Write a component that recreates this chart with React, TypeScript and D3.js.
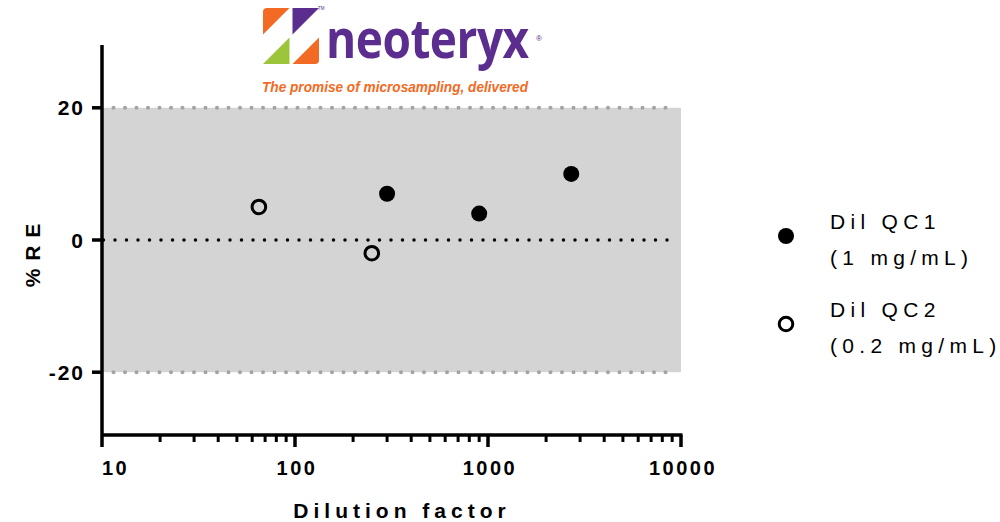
import React from "react";
import * as d3 from "d3";

// chart values
const qc1Dilution = [300, 900, 2700];
const qc1RE = [7, 4, 10];
const qc2Dilution = [65, 250];
const qc2RE = [5, -2];
const yTicks = [-20, 0, 20];
const xTickLabels = ["10", "100", "1000", "10000"];
const band = [-20, 20];
const legendLines = [
  ["Dil QC1", "(1 mg/mL)"],
  ["Dil QC2", "(0.2 mg/mL)"],
];

const width = 1000;
const height = 522;
const font = "Arial, 'Liberation Sans', sans-serif";

const ORANGE = "#f26a23";
const PURPLE = "#5b2d8e";
const GREEN = "#9cc53c";

function Logo() {
  // neoteryx mark: 2x2 grid of triangles leaving a white "Z"
  const x0 = 263;
  const y0 = 8;
  const c = 28;
  const g = 1.5;
  return (
    <g>
      <path d={`M${x0},${y0 + 4} Q${x0},${y0} ${x0 + 4},${y0} L${x0 + c - g},${y0} L${x0},${y0 + c - g} Z`} fill={ORANGE} />
      <path d={`M${x0 + c + g},${y0} L${x0 + 2 * c},${y0} L${x0 + c + g},${y0 + c - g} Z`} fill={PURPLE} />
      <path d={`M${x0 + c - g},${y0 + c + g} L${x0 + c - g},${y0 + 2 * c} L${x0},${y0 + 2 * c} Z`} fill={GREEN} />
      <path d={`M${x0 + 2 * c},${y0 + c + g} L${x0 + 2 * c},${y0 + 2 * c - 4} Q${x0 + 2 * c},${y0 + 2 * c} ${x0 + 2 * c - 4},${y0 + 2 * c} L${x0 + c + g},${y0 + 2 * c} Z`} fill={ORANGE} />
      <text x={x0 + 2 * c - 1} y={y0 + 2} fontSize={4.5} fill={PURPLE} fontFamily={font}>TM</text>
      <text
        transform="translate(326,58) scale(1,1.15)"
        fontSize={46}
        fontWeight="bold"
        fill={PURPLE}
        fontFamily="'Open Sans', 'DejaVu Sans', sans-serif"
        letterSpacing={-0.5}
      >
        neoteryx
      </text>
      <text x={536} y={41} fontSize={8} fill={PURPLE} fontFamily={font}>®</text>
      <text
        x={262}
        y={92}
        fontSize={14}
        fontWeight="bold"
        fontStyle="italic"
        fill={ORANGE}
        fontFamily={font}
        textLength={266}
        lengthAdjust="spacingAndGlyphs"
      >
        The promise of microsampling, delivered
      </text>
    </g>
  );
}

export default function App() {
  const x = d3.scaleLog().domain([10, 10000]).range([102, 681]);
  const y = d3.scaleLinear().domain([-29.5, 29.5]).range([435, 45]);
  const [x0, x1] = x.range();
  const [yb, yt] = y.range();

  const ticks = x.ticks();
  const isMajor = (t: number) => Math.abs(Math.log10(t) - Math.round(Math.log10(t))) < 1e-9;

  const qc1 = qc1Dilution.map((d, i) => ({ d, v: qc1RE[i] }));
  const qc2 = qc2Dilution.map((d, i) => ({ d, v: qc2RE[i] }));

  return (
    <div style={{ position: "fixed", left: 0, top: 0 }}>
      <svg width={width} height={height} style={{ display: "block", background: "#fff" }}>
        <Logo />

        {/* acceptance band */}
        <rect x={x0} y={y(band[1])} width={x1 - x0} height={y(band[0]) - y(band[1])} fill="#d4d4d4" />
        {band.map((b) => (
          <line
            key={b}
            x1={x0 + 11.5}
            x2={x1 - 5}
            y1={y(b)}
            y2={y(b)}
            stroke="#a3a3a3"
            strokeWidth={4}
            strokeLinecap="round"
            strokeDasharray="0 11.5"
          />
        ))}
        <line
          x1={x0 + 1.5}
          x2={x1 - 5}
          y1={y(0)}
          y2={y(0)}
          stroke="#000"
          strokeWidth={3.5}
          strokeLinecap="round"
          strokeDasharray="0 11.5"
        />

        {/* y axis */}
        <line x1={x0} x2={x0} y1={yt} y2={yb} stroke="#000" strokeWidth={3.5} />
        {yTicks.map((t) => (
          <g key={t}>
            <line x1={x0 - 10} x2={x0} y1={y(t)} y2={y(t)} stroke="#000" strokeWidth={3.5} />
            <text
              x={85}
              y={y(t) + 7.5}
              textAnchor="end"
              fontSize={21}
              fontWeight="bold"
              letterSpacing={2}
              fontFamily={font}
            >
              {t}
            </text>
          </g>
        ))}
        <text
          transform={`translate(40,${y(0) + 15}) rotate(-90)`}
          textAnchor="middle"
          fontSize={21}
          fontWeight="bold"
          letterSpacing={1}
          fontFamily={font}
        >
          % R E
        </text>

        {/* x axis */}
        <line x1={x0} x2={x1 + 1.5} y1={yb} y2={yb} stroke="#000" strokeWidth={3.5} />
        {ticks.map((t) => (
          <line
            key={t}
            x1={x(t)}
            x2={x(t)}
            y1={yb}
            y2={yb + (isMajor(t) ? 12 : 7)}
            stroke="#000"
            strokeWidth={isMajor(t) ? 3.5 : 3}
          />
        ))}
        {xTickLabels.map((l, i) => (
          <text
            key={l}
            x={i === 0 ? x(+l) : x(+l) + 2}
            y={475}
            textAnchor={i === 0 ? "start" : "middle"}
            fontSize={20}
            fontWeight="bold"
            letterSpacing={2.5}
            fontFamily={font}
          >
            {l}
          </text>
        ))}
        <text
          x={402}
          y={518}
          textAnchor="middle"
          fontSize={21}
          fontWeight="bold"
          letterSpacing={5}
          fontFamily={font}
        >
          Dilution factor
        </text>

        {/* points */}
        {qc1.map((p, i) => (
          <circle key={`a${i}`} cx={x(p.d)} cy={y(p.v)} r={8} fill="#000" />
        ))}
        {qc2.map((p, i) => (
          <circle key={`b${i}`} cx={x(p.d)} cy={y(p.v)} r={6.8} fill="none" stroke="#000" strokeWidth={3} />
        ))}

        {/* legend */}
        {legendLines.map((lines, i) => {
          const cy = 236 + i * 88;
          return (
            <g key={i}>
              {i === 0 ? (
                <circle cx={786} cy={cy} r={8} fill="#000" />
              ) : (
                <circle cx={786} cy={cy} r={6.8} fill="none" stroke="#000" strokeWidth={3} />
              )}
              {lines.map((t, j) => (
                <text
                  key={j}
                  x={830}
                  y={cy - 7 + j * 36}
                  fontSize={21}
                  letterSpacing={5.3}
                  fontFamily={font}
                >
                  {t}
                </text>
              ))}
            </g>
          );
        })}
      </svg>
    </div>
  );
}
